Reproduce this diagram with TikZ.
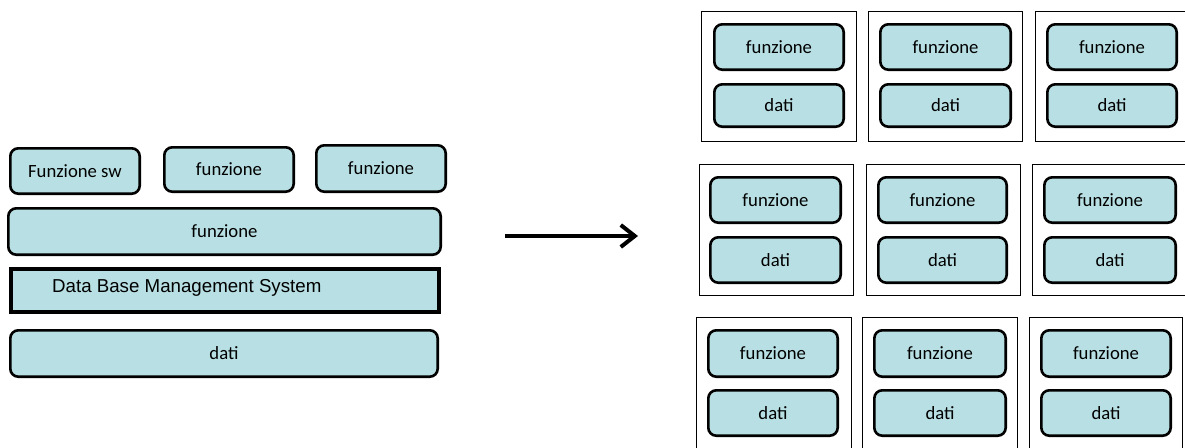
\documentclass[tikz,border=0pt]{standalone}
\usepackage{fontspec}
\setmainfont{Carlito}
\newfontfamily\arialfont{Liberation Sans}
\usetikzlibrary{arrows.meta}
\definecolor{paleteal}{HTML}{B8DFE3}

\tikzset{
  blk/.style={draw=black, fill=paleteal, rounded corners=8pt, line width=2.6pt,
    inner sep=0pt, font=\fontsize{18.7}{22}\selectfont},
  dbbox/.style={draw=black, fill=paleteal, line width=4pt, inner sep=0pt},
  cell/.style={draw=black, line width=1.4pt, inner sep=0pt},
  bigarrow/.style={line width=4pt, -{Straight Barb[length=14pt,width=22pt,line width=4pt]}}
}

% \rb{name}{x1}{y1}{x2}{y2}{text}: rounded block between two corners
\newcommand{\rb}[6]{%
  \pgfmathsetmacro\bw{#4-#2-2.6}\pgfmathsetmacro\bh{#5-#3-2.6}%
  \node[blk, minimum width=\bw pt, minimum height=\bh pt] (#1) at ({(#2+#4)/2},{(#3+#5)/2}) {#6};}
% \cb{name}{x1}{y1}{x2}{y2}: plain cell frame
\newcommand{\cb}[5]{%
  \pgfmathsetmacro\bw{#4-#2-1.4}\pgfmathsetmacro\bh{#5-#3-1.4}%
  \node[cell, minimum width=\bw pt, minimum height=\bh pt] (#1) at ({(#2+#4)/2},{(#3+#5)/2}) {};}

\begin{document}
\begin{tikzpicture}[x=1pt, y=-1pt]
\useasboundingbox (0,0) rectangle (1185,447);

% monolithic stack
\rb{fsw}{9}{147}{141}{195}{Funzione sw}
\rb{fa}{163}{146}{295}{193}{funzione}
\rb{fb}{315}{144}{447}{193}{funzione}
\rb{fwide}{7}{207}{442}{256}{funzione}
\node[dbbox, minimum width=428pt, minimum height=43pt] (dbms) at (225,290.5) {};
\node[anchor=west, inner sep=0pt, font=\arialfont\fontsize{18.7}{22}\selectfont] (dbmstext) at (52,288) {Data Base Management System};
\rb{datil}{9}{329}{439}{378}{dati}

% transformation arrow
\coordinate (as) at (505,236);
\coordinate (ae) at (638,236);
\draw[bigarrow] (as) -- (ae);

% row 1 of independent units
\cb{c11}{701}{11}{857}{142}
\cb{c12}{868}{11}{1023}{142}
\cb{c13}{1035}{11}{1200}{142}
\rb{f11}{713}{23}{845}{71}{funzione}
\rb{d11}{713}{83}{845}{128}{dati}
\rb{f12}{879}{23}{1012}{71}{funzione}
\rb{d12}{879}{83}{1012}{128}{dati}
\rb{f13}{1046}{23}{1178}{71}{funzione}
\rb{d13}{1046}{83}{1178}{128}{dati}

% row 2
\cb{c21}{699}{164}{854}{296}
\cb{c22}{866}{164}{1021}{296}
\cb{c23}{1032}{164}{1200}{296}
\rb{f21}{709}{176}{842}{224}{funzione}
\rb{d21}{709}{236}{842}{284}{dati}
\rb{f22}{877}{176}{1008}{224}{funzione}
\rb{d22}{877}{236}{1008}{284}{dati}
\rb{f23}{1043}{176}{1177}{224}{funzione}
\rb{d23}{1043}{236}{1177}{284}{dati}

% row 3
\cb{c31}{696}{317}{852}{460}
\cb{c32}{862}{317}{1018}{460}
\cb{c33}{1029}{317}{1183}{460}
\rb{f31}{707}{329}{839}{378}{funzione}
\rb{d31}{707}{389}{839}{437}{dati}
\rb{f32}{873}{329}{1007}{378}{funzione}
\rb{d32}{873}{389}{1007}{437}{dati}
\rb{f33}{1040}{329}{1172}{378}{funzione}
\rb{d33}{1040}{389}{1172}{437}{dati}
\end{tikzpicture}
\end{document}
